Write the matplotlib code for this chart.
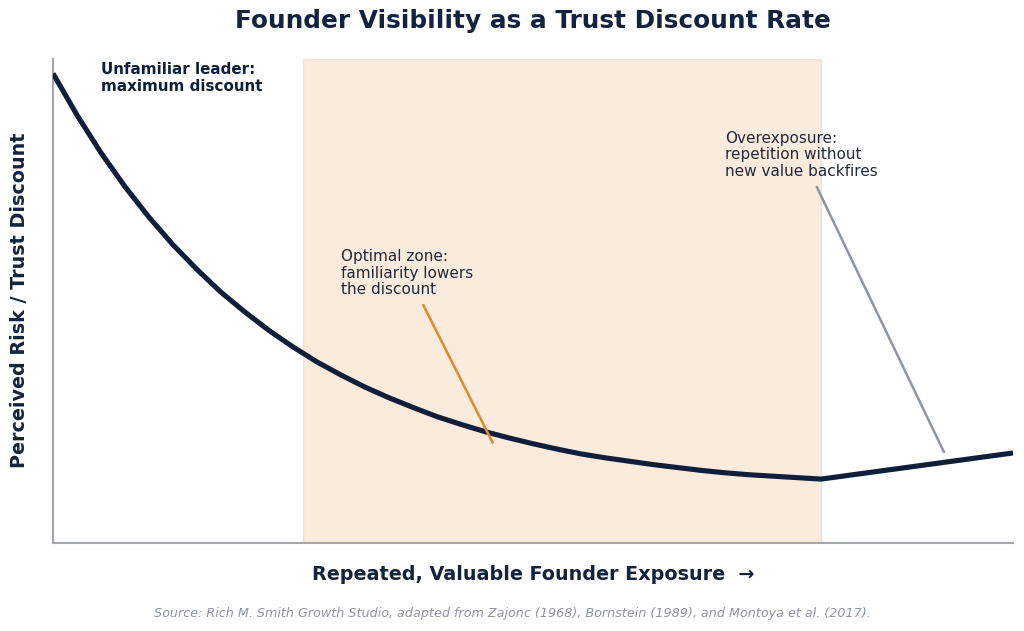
import matplotlib
matplotlib.use("Agg")
import matplotlib.pyplot as plt
from matplotlib.colors import to_rgba

# Data
exposure = [0.0, 0.25, 0.5, 0.75, 1.0, 1.25, 1.5, 1.75, 2.0, 2.25, 2.5, 2.75,
            3.0, 3.25, 3.5, 3.75, 4.0, 4.25, 4.5, 4.75, 5.0, 5.25, 5.5, 5.75,
            6.0, 6.25, 6.5, 6.75, 7.0, 7.25, 7.5, 7.75, 8.0,
            8.5, 9.0, 9.5, 10.0]
discount = [97.0, 88.4, 80.6, 73.6, 67.3, 61.6, 56.5, 51.8, 47.7, 43.9, 40.5,
            37.4, 34.7, 32.2, 30.0, 28.0, 26.1, 24.5, 23.0, 21.7, 20.5, 19.4,
            18.4, 17.6, 16.9, 16.2, 15.6, 15.0, 14.5, 14.1, 13.8, 13.5, 13.2,
            14.55, 15.9, 17.25, 18.6]
optimal_zone = [2.6, 8.0]

title = "Founder Visibility as a Trust Discount Rate"
xlabel = "Repeated, Valuable Founder Exposure  \u2192"
ylabel = "Perceived Risk / Trust Discount"
source = ("Source: Rich M. Smith Growth Studio, adapted from Zajonc (1968), "
          "Bornstein (1989), and Montoya et al. (2017).")
ann_unfamiliar = "Unfamiliar leader:\nmaximum discount"
ann_optimal = "Optimal zone:\nfamiliarity lowers\nthe discount"
ann_over = "Overexposure:\nrepetition without\nnew value backfires"

NAVY = "#0f1f3a"
ORANGE = "#e08a2c"
GRAY = "#8c96a5"
ZONE = "#f3c79c"

fig = plt.figure(figsize=(10.24, 6.31), dpi=100)
ax = fig.add_axes([0.0518, 0.1395, 0.9375, 0.767])

ax.axvspan(optimal_zone[0], optimal_zone[1], facecolor=to_rgba(ZONE, 0.35),
           edgecolor=to_rgba(ZONE, 0.45), lw=1.0)
ax.plot(exposure, discount, color=NAVY, lw=3.7, solid_capstyle="butt",
        solid_joinstyle="round", zorder=3)

ax.set_xlim(0, 10)
ax.set_ylim(0, 100)
ax.set_xticks([])
ax.set_yticks([])
for s in ["top", "right"]:
    ax.spines[s].set_visible(False)
for s in ["left", "bottom"]:
    ax.spines[s].set_color("#a4a8ae")
    ax.spines[s].set_linewidth(1.5)

ax.text(0.5, 99.3, ann_unfamiliar, fontsize=10.9, fontweight="bold",
        color=NAVY, ha="left", va="top", linespacing=1.15)

ax.annotate(ann_optimal, xy=(4.58, 20.7), xytext=(3.0, 60.8),
            fontsize=11, color="#1f2a3c", ha="left", va="top",
            linespacing=1.15,
            arrowprops=dict(arrowstyle="-", color=ORANGE, lw=1.8,
                            shrinkA=4, shrinkB=0))

ax.annotate(ann_over, xy=(9.28, 18.8), xytext=(7.0, 85.2),
            fontsize=11, color="#1f2a3c", ha="left", va="top",
            linespacing=1.15,
            arrowprops=dict(arrowstyle="-", color=GRAY, lw=1.8,
                            shrinkA=4, shrinkB=0))

fig.text(0.5205, 0.966, title, fontsize=17.8, fontweight="bold", color="#13223d",
         ha="center", va="center")
fig.text(0.5205, 0.09, xlabel, fontsize=13.8, fontweight="bold", color="#13223d",
         ha="center", va="center")
fig.text(0.019, 0.524, ylabel, fontsize=13.75, fontweight="bold", color="#13223d",
         ha="center", va="center", rotation=90)
fig.text(0.5, 0.028, source, fontsize=9.2, style="italic", color="#8d96a3",
         ha="center", va="center")

fig.savefig("out.png", dpi=100, facecolor="white")
